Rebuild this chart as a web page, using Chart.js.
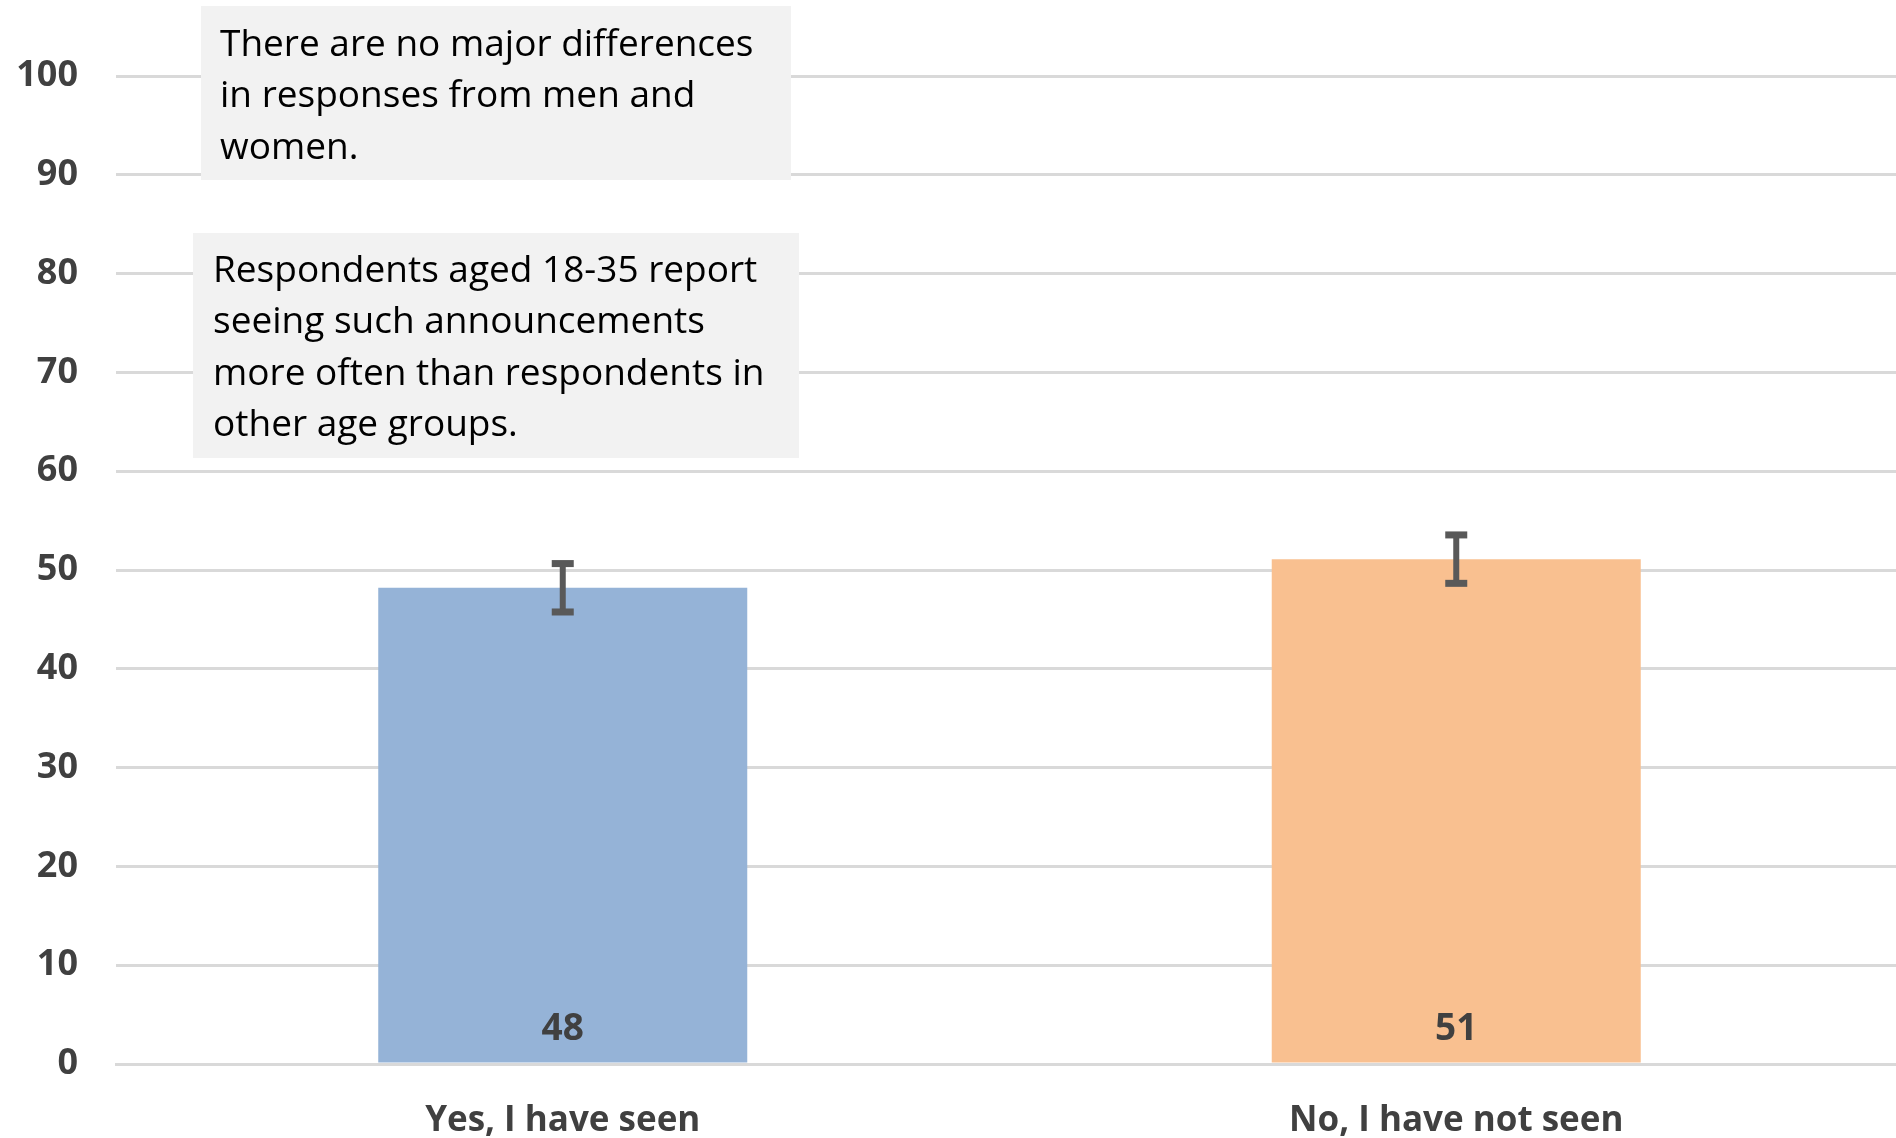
<!DOCTYPE html>
<html>
<head>
<meta charset="utf-8">
<script src="https://cdn.jsdelivr.net/npm/chart.js@4.4.1/dist/chart.umd.min.js"></script>
<style>
  html, body { margin: 0; padding: 0; background: #fff; }
  #wrap { width: 1896px; height: 1138px; position: relative; overflow: hidden; }
</style>
</head>
<body>
<div id="wrap"><canvas id="myChart" width="1903" height="1138"></canvas></div>
<script>
const categories = ['Yes, I have seen', 'No, I have not seen'];
const values = [48.2, 51.1];
const errors = [2.45, 2.45];
const valueLabels = ['48', '51'];
const barColors = ['#95b3d7', '#f9c090'];
const yMin = 0, yMax = 100, yStep = 10;
const notes = [
    ['There are no major differences', 'in responses from men and', 'women.'],
    ['Respondents aged 18-35 report', 'seeing such announcements', 'more often than respondents in', 'other age groups.']
];

const FONT = '"Open Sans", "Noto Sans", sans-serif';

// error bars + value labels inside bars
const barExtras = {
    id: 'barExtras',
    afterDatasetsDraw(chart) {
        const c = chart.ctx;
        const y = chart.scales.y;
        const meta = chart.getDatasetMeta(0);
        c.save();
        meta.data.forEach((bar, i) => {
            const top = y.getPixelForValue(values[i] + errors[i]);
            const bot = y.getPixelForValue(values[i] - errors[i]);
            c.fillStyle = '#595959';
            c.fillRect(bar.x - 3, top, 6, bot - top);
            c.fillRect(bar.x - 11, top - 3.5, 22, 7);
            c.fillRect(bar.x - 11, bot - 3.5, 22, 7);

            c.fillStyle = '#404040';
            c.font = 'bold 37px ' + FONT;
            c.textAlign = 'center';
            c.textBaseline = 'middle';
            c.fillText(valueLabels[i], bar.x, bar.base - 33);
        });
        c.restore();
    }
};

// grey note boxes in the upper left
const noteBoxes = {
    id: 'noteBoxes',
    afterDraw(chart) {
        const c = chart.ctx;
        const boxes = [
            { x: 201, y: 6, w: 590, h: 174, tx: 220, ty: 45 },
            { x: 193, y: 233, w: 606, h: 225, tx: 213, ty: 271 }
        ];
        c.save();
        boxes.forEach((b, i) => {
            c.fillStyle = '#f2f2f2';
            c.fillRect(b.x, b.y, b.w, b.h);
            c.fillStyle = '#000';
            c.font = '37px ' + FONT;
            c.textAlign = 'left';
            c.textBaseline = 'middle';
            notes[i].forEach((line, j) => c.fillText(line, b.tx, b.ty + j * 51.5));
        });
        c.restore();
    }
};

new Chart(document.getElementById('myChart'), {
    type: 'bar',
    data: {
        labels: categories,
        datasets: [{
            data: values,
            backgroundColor: barColors,
            borderWidth: 0,
            barPercentage: 0.413,
            categoryPercentage: 1
        }]
    },
    options: {
        responsive: false,
        animation: false,
        layout: { padding: { top: 76, right: 0, bottom: 0, left: 0 } },
        plugins: {
            legend: { display: false },
            tooltip: { enabled: false }
        },
        scales: {
            y: {
                min: yMin,
                max: yMax,
                border: { display: false },
                grid: { color: '#d9d9d9', lineWidth: 3, drawTicks: false },
                ticks: {
                    stepSize: yStep,
                    padding: 38,
                    color: '#404040',
                    font: { family: FONT, size: 36, weight: 'bold' }
                },
                afterFit(scale) { scale.width = 116; }
            },
            x: {
                border: { color: '#d9d9d9', width: 3 },
                grid: { display: false },
                ticks: {
                    padding: 28,
                    color: '#404040',
                    font: { family: FONT, size: 35, weight: 'bold' }
                },
                afterFit(scale) { scale.height = 74; }
            }
        }
    },
    plugins: [barExtras, noteBoxes]
});
</script>
</body>
</html>
